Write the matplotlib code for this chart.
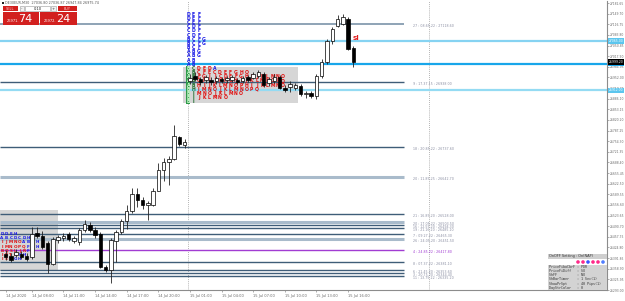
import matplotlib
matplotlib.use("Agg")
import matplotlib.pyplot as plt
import matplotlib.transforms as mtransforms
from matplotlib.patches import Rectangle, Circle

# DE30 M30 bars shown on screen (index 0 = left-most bar)
opens = [26405.6, 26399.5, 26402.5, 26405.6, 26399.5, 26396.4, 26469.8, 26460.7, 26439.2, 26375.0,
         26448.4, 26454.5, 26466.8, 26445.4, 26442.3, 26479.0, 26494.3, 26479.0, 26466.8, 26365.8,
         26353.6, 26445.4, 26472.9, 26506.6, 26537.2, 26589.2, 26570.8, 26555.5, 26555.5, 26601.4,
         26665.7, 26690.2, 26699.3, 26766.7, 26742.2, 26941.1, 26956.4, 26947.2, 26944.1, 26944.1,
         26941.1, 26947.2, 26944.1, 26944.1, 26944.1, 26941.1, 26953.3, 26950.3, 26956.4, 26962.5,
         26935.0, 26941.1, 26953.3, 26919.7, 26922.7, 26919.7, 26925.8, 26901.3, 26904.4, 26895.2,
         26956.4, 26999.2, 27063.5, 27112.4, 27118.6, 27133.9, 27042.1]
highs = [26417.8, 26408.6, 26420.9, 26414.8, 26408.6, 26488.2, 26488.2, 26476.0, 26445.4, 26457.6,
         26463.7, 26469.8, 26472.9, 26460.7, 26485.1, 26509.6, 26503.5, 26488.2, 26472.9, 26371.9,
         26454.5, 26479.0, 26512.7, 26555.5, 26610.6, 26610.6, 26580.0, 26567.8, 26610.6, 26687.1,
         26702.4, 26708.5, 26803.4, 26769.7, 26760.5, 26962.5, 26968.6, 26953.3, 26959.4, 26953.3,
         26956.4, 26953.3, 26956.4, 26959.4, 26950.3, 26956.4, 26959.4, 26968.6, 26974.7, 26968.6,
         26953.3, 26962.5, 26959.4, 26928.8, 26941.1, 26935.0, 26931.9, 26910.5, 26910.5, 26962.5,
         27008.4, 27069.6, 27109.4, 27146.1, 27149.2, 27140.0, 27048.2]
lows = [26387.2, 26381.1, 26396.4, 26390.3, 26384.2, 26390.3, 26454.5, 26420.9, 26344.4, 26371.9,
        26439.2, 26445.4, 26445.4, 26439.2, 26433.1, 26472.9, 26472.9, 26454.5, 26359.7, 26347.4,
        26313.8, 26381.1, 26466.8, 26482.1, 26531.0, 26549.4, 26543.3, 26509.6, 26552.5, 26598.4,
        26632.0, 26619.8, 26696.3, 26739.1, 26733.0, 26931.9, 26941.1, 26928.8, 26935.0, 26928.8,
        26931.9, 26935.0, 26935.0, 26938.0, 26931.9, 26935.0, 26938.0, 26947.2, 26950.3, 26922.7,
        26925.8, 26935.0, 26916.6, 26907.4, 26907.4, 26913.5, 26895.2, 26889.1, 26889.1, 26886.0,
        26950.3, 26993.1, 27054.3, 27109.4, 27115.5, 27036.0, 26983.9]
closes = [26396.4, 26387.2, 26411.7, 26396.4, 26390.3, 26466.8, 26460.7, 26427.0, 26375.0, 26451.5,
          26457.6, 26460.7, 26451.5, 26454.5, 26479.0, 26497.4, 26479.0, 26463.7, 26365.8, 26353.6,
          26448.4, 26472.9, 26506.6, 26537.2, 26589.2, 26570.8, 26555.5, 26561.6, 26601.4, 26665.7,
          26690.2, 26699.3, 26769.7, 26745.2, 26751.4, 26950.3, 26947.2, 26938.0, 26953.3, 26938.0,
          26950.3, 26941.1, 26950.3, 26953.3, 26938.0, 26950.3, 26944.1, 26962.5, 26968.6, 26928.8,
          26947.2, 26953.3, 26919.7, 26913.5, 26931.9, 26928.8, 26901.3, 26902.8, 26895.2, 26956.4,
          26999.2, 27063.5, 27103.3, 27133.9, 27140.0, 27039.0, 26999.2]

# horizontal levels drawn across the whole chart (to the price scale)
full_levels = [27065.0, 26994.6, 26912.0]
full_colors = ['#86d3f2', '#18a6ea', '#94dbf3']

# levels drawn up to the label column
part_levels = [27118.6, 26938.0, 26737.6, 26642.7, 26528.0, 26503.5, 26494.3, 26485.1,
               26465.3, 26451.5, 26417.8, 26381.1, 26353.6, 26344.4, 26335.2]
part_kinds = ['mid', 'dark', 'dark', 'light', 'dark', 'light', 'dark', 'dark',
              'dark', 'light', 'purple', 'dark', 'dark', 'dark', 'dark']
part_ids = ['27', '9', '18', '20', '21', '20', '16', '19', '7', '26', '4', '8', '6', '3', '11']
part_times = ['08.65.22', '17.37.15', '20.85.22', '11.85.25', '16.85.20', '17.05.22', '12.55.20',
              '21.16.20', '09.27.22', '24.05.20', '24.85.22', '07.37.22', '21.45.20', '20.75.20', '13.75.22']

# time scale
time_pos = [0, 5, 11, 17, 23, 29, 35, 41, 47, 53, 59, 65]
time_labels = ['14 Jul 2020', '14 Jul 08:00', '14 Jul 11:00', '14 Jul 14:00', '14 Jul 17:00',
               '14 Jul 20:00', '15 Jul 01:00', '15 Jul 04:00', '15 Jul 07:00', '15 Jul 10:00',
               '15 Jul 13:00', '15 Jul 16:00']
price_ticks = [27182.65 - 32.95 * i for i in range(28)]
day_breaks = [34.6, 80.4]

# TPO profiles: rows from top, letters and number of leading red letters
left_rows = ['DDEH', 'ABCDCDH', 'IJMNOABCH', 'IMNOPQFGH', 'BQSLJRFH', 'IBTGFH', 'ISTGH']
left_red = [0, 0, 5, 6, 6, 4, 3]
left_top = 26466.8
top_rows = ['DEF', 'DEF', 'CEF', 'CDF', 'CDF', 'CDF', 'BCFG', 'BCFG', 'BCF', 'ABG', 'ABG', 'AB', 'AB',
            'BCDEDA', 'ABCFECDEFGHO', 'ABFGIJCDEFGHIJKLMNO', 'ABCFIJKHGHIJKLMNOPQ',
            'ABHIJKLMNOPHIJKLMNO', 'BHIMNOJKLMNOPQ', 'BIMNOJKLMNO', 'BIJKLMNO', 'BI']
top_box_from = 13
top_top = 27147.6
row_step = 12.9

BLUE, RED = '#1a1ae6', '#e01010'
AX_RIGHT = 607

fig = plt.figure(figsize=(6.25, 3.01), dpi=100)
ax = fig.add_axes([0, 11 / 301, AX_RIGHT / 625, 289 / 301])
ax.set_xlim(-1.044, (AX_RIGHT - 5.5) / 5.27)
ax.set_ylim(26304.6, 27188.94)
ax.set_facecolor('white')

# shaded profile ranges
ax.add_patch(Rectangle((-1.1, 26350.5), 11.05, 189.7, fc='#d6d6d6', ec='none', zorder=1))
ax.add_patch(Rectangle((33.7, 26873.8), 21.8, 110.1, fc='#d6d6d6', ec='none', zorder=1))

for d in day_breaks:
    ax.axvline(d, color='#9a9a9a', lw=0.6, ls=(0, (1, 1.5)), zorder=1.5)

for lv, c in zip(full_levels, full_colors):
    ax.axhline(lv, color=c, lw=1.6, zorder=2)

styles = {'dark': ('#3f5d78', 1.0), 'light': ('#a9bbcb', 2.2), 'mid': ('#7c93a9', 1.2),
          'purple': ('#a13cd2', 1.0)}
for lv, kind, pid, pt in zip(part_levels, part_kinds, part_ids, part_times):
    col, lw = styles[kind]
    ax.hlines(lv, -1.1, 75.6, color=col, lw=lw, zorder=2)
    tcol = '#a13cd2' if kind == 'purple' else '#8b8fa3'
    ax.text(77.3, lv - 6, f'{pid} : {pt} : {lv:.2f}', fontsize=2.3, color=tcol, va='center', zorder=3)

# TPO letters
for r, (s, nred) in enumerate(zip(left_rows, left_red)):
    y = left_top - r * 13.2
    for j, ch in enumerate(s):
        ax.text(-0.66 + j * 0.83, y, ch, fontsize=3.0, fontweight='bold', ha='center', va='center',
                color=RED if j < nred else BLUE, zorder=3)

ax.add_patch(Rectangle((34.3, top_top - 21.5 * row_step), 0.8, 9 * row_step, fc='#2f9a4a', ec='none', zorder=2.5))
for r, s in enumerate(top_rows):
    y = top_top - r * row_step
    for j, ch in enumerate(s):
        if r < top_box_from:
            col = BLUE
        elif j == 0:
            col = '#d8ffd8'
        elif j == 1:
            col = '#1a6a2a'
        else:
            col = RED
        if r == top_box_from and j == len(s) - 1:
            col = BLUE
        ax.text(34.7 + j * 1.0, y, ch, fontsize=3.3, fontweight='bold', ha='center', va='center',
                color=col, zorder=3)

# candles
for i, (o, h, l, c) in enumerate(zip(opens, highs, lows, closes)):
    ax.plot([i, i], [l, h], color='#222222', lw=0.6, zorder=4, solid_capstyle='butt')
    bull = c >= o
    ax.add_patch(Rectangle((i - 0.33, min(o, c)), 0.66, max(abs(c - o), 1.5),
                           fc='white' if bull else 'black', ec='black', lw=0.5, zorder=5))

ax.text(len(closes) - 1.1, 27074, 'sl', color='#e02020', fontsize=5.0, fontweight='bold', va='center')

# axes styling
for side in ['top', 'left']:
    ax.spines[side].set_visible(False)
ax.spines['right'].set_color('#8c8c8c')
ax.spines['bottom'].set_color('#8c8c8c')
ax.spines['right'].set_linewidth(0.8)
ax.spines['bottom'].set_linewidth(0.8)
ax.yaxis.tick_right()
ax.set_yticks(price_ticks)
ax.set_yticklabels([f'{p:.2f}' for p in price_ticks])
ax.tick_params(axis='y', length=1.2, width=0.5, color='#8c8c8c', labelsize=2.2, labelcolor='#6a6a6a', pad=0.8)
ax.set_xticks(time_pos)
ax.set_xticklabels(time_labels, ha='left')
ax.tick_params(axis='x', length=1.5, width=0.5, color='#8c8c8c', labelsize=2.6, labelcolor='#6a6a6a', pad=1.5)

blend = mtransforms.blended_transform_factory(ax.transAxes, ax.transData)
price_tags = [(full_levels[0], '#5cc6ee', 'white'), (full_levels[2], '#5cc6ee', 'white'),
              (full_levels[1], '#18a6ea', 'white'), (closes[-1], 'black', 'white')]
for p, bg, fg in price_tags:
    ax.text(1.003, p, f'{p:.2f}', transform=blend, fontsize=2.2, color=fg, va='center', ha='left',
            bbox=dict(boxstyle='square,pad=0.25', fc=bg, ec='none'), clip_on=False, zorder=6)

# overlay in pixel coordinates for terminal widgets
ov = fig.add_axes([0, 0, 1, 1])
ov.set_xlim(0, 625)
ov.set_ylim(301, 0)
ov.axis('off')
ov.patch.set_alpha(0)

ov.add_patch(Rectangle((1.5, 1.5), 2.2, 2.2, fc='#202020', ec='none'))
ov.text(5.0, 2.8, 'DE30EUR,M30  27036.80 27036.87 26947.84 26975.74', fontsize=2.4, color='#555555', va='center')

red = '#d2201f'
ov.add_patch(Rectangle((2.5, 6), 15, 5, fc=red, ec='none'))
ov.text(10, 8.6, 'SELL', fontsize=2.5, color='#ffd0d0', ha='center', va='center')
ov.add_patch(Rectangle((19.5, 6), 4.5, 5, fc='#f2f2f2', ec='#9a9a9a', lw=0.4))
ov.text(21.7, 8.4, '-', fontsize=3.0, color='#333', ha='center', va='center')
ov.add_patch(Rectangle((25, 6), 25, 5, fc='white', ec='#9a9a9a', lw=0.4))
ov.text(37.5, 8.6, '0.10', fontsize=2.6, color='#222', ha='center', va='center')
ov.add_patch(Rectangle((51, 6), 4.5, 5, fc='#f2f2f2', ec='#9a9a9a', lw=0.4))
ov.text(53.2, 8.6, '+', fontsize=2.8, color='#333', ha='center', va='center')
ov.add_patch(Rectangle((58, 6), 19, 5, fc=red, ec='none'))
ov.text(67.5, 8.6, 'BUY', fontsize=2.5, color='#ffd0d0', ha='center', va='center')
ov.add_patch(Rectangle((2.5, 11.5), 36, 13, fc=red, ec='none'))
ov.add_patch(Rectangle((39.5, 11.5), 37.5, 13, fc=red, ec='none'))
big_font = ['Liberation Sans Narrow', 'DejaVu Sans']
ov.text(6.5, 20.5, '26971.', fontsize=2.6, color='white', va='center')
ov.text(18.5, 18.5, '74', fontsize=8, color='white', va='center', family=big_font)
ov.text(44, 20.5, '26972.', fontsize=2.6, color='white', va='center')
ov.text(56, 18.5, '24', fontsize=8, color='white', va='center', family=big_font)

# settings panel (bottom right)
ov.add_patch(Rectangle((548, 254), 59, 4.5, fc='#cfcfcf', ec='none'))
ov.text(549, 256.3, 'OnOFF Setting : On(NAP)', fontsize=2.5, color='#333', va='center')
for j, cc in enumerate(['#ff2a8a', '#ff2a8a', '#3b55ff', '#ff2a8a', '#ff2a8a', '#4f7dff']):
    ov.add_patch(Circle((578 + j * 5, 262), 1.8, fc=cc, ec='none'))
ov.add_patch(Rectangle((548, 265), 59, 25, fc='#d3d3d3', ec='none'))
settings = ['PriceFiboCbrF : PDR', 'PriceFiDiff   : SO', 'ShFF          : NO',
            'ShBarTimer    : 1 Sec(1)', 'ShowPrSpt     : 40 Pips(1)', 'DayStrColor   : 0']
for j, s in enumerate(settings):
    ov.text(549, 267.5 + j * 4, s, fontsize=2.4, color='#333', va='center', family='DejaVu Sans Mono')

fig.savefig('out.png', dpi=100)
